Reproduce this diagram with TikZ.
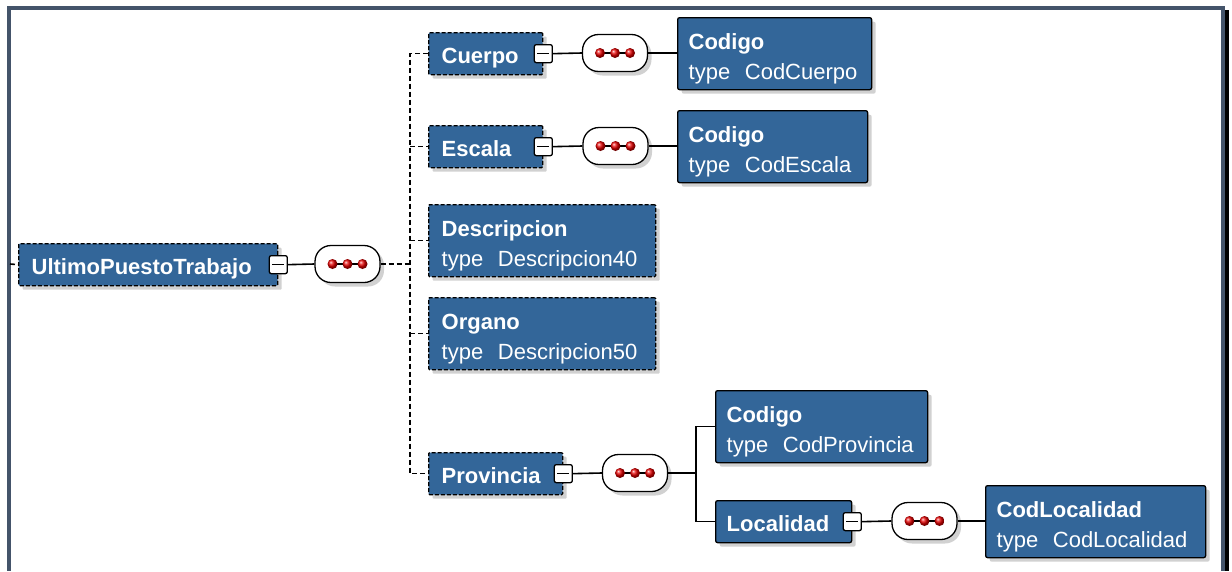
\documentclass[tikz,border=0pt]{standalone}
\usepackage{fontspec}
\setmainfont{Liberation Sans}
\usetikzlibrary{shadows}
\definecolor{boxblue}{RGB}{51,102,153}
\definecolor{framec}{RGB}{68,84,106}
\newcommand\onel[1]{\rule{0pt}{31pt}\textbf{#1}\rule[-11pt]{0pt}{11pt}}
\newcommand\twol[2]{\rule{0pt}{31.5pt}\textbf{#1}\\type~~#2\rule[-10.5pt]{0pt}{10.5pt}}
\tikzset{
  shad/.style={drop shadow={shadow xshift=4pt, shadow yshift=-4pt, fill=black, opacity=0.18}},
  base/.style={anchor=north west, fill=boxblue, draw=black, line width=1.3pt, text=white,
    font=\fontsize{22}{30}\selectfont, inner ysep=0pt, align=left, shad},
  optbox/.style={base, dash pattern=on 4pt off 2pt, inner xsep=13pt, rounded corners=1pt},
  reqbox/.style={base, inner xsep=11pt, rounded corners=2pt},
  minus/.style={draw=black, fill=white, line width=1.3pt, minimum size=18pt, inner sep=0pt,
    rounded corners=2pt,
    path picture={\draw[line width=1.5pt] ([xshift=3pt]path picture bounding box.west) -- ([xshift=-3pt]path picture bounding box.east);}},
  seq/.style={draw=black, fill=white, line width=1.3pt, minimum width=65pt, minimum height=37pt,
    inner sep=0pt, rounded corners=16pt, shad,
    path picture={
      \draw[line width=1.5pt] ([xshift=-15pt]path picture bounding box.center) -- ([xshift=15pt]path picture bounding box.center);
      \foreach \dx in {-15,0,15} {\shade[ball color=red!90!black] ([xshift=\dx pt]path picture bounding box.center) circle (5pt);}
    }},
  conn/.style={line width=1.6pt, draw=black},
  dconn/.style={conn, dash pattern=on 5pt off 3pt},
}
\begin{document}
\begin{tikzpicture}[x=1pt, y=-1pt]
\useasboundingbox (0,0) rectangle (1232,571);
% frame
\fill[framec] (7,6) rectangle (1225,10);
\fill[framec] (7,6) rectangle (11,571);
\fill[framec] (1221,6) rectangle (1225,571);
\fill[black] (1225,10) rectangle (1229,571);

% boxes
\node[optbox, text width=233pt] (upt) at (18,243) {\onel{UltimoPuestoTrabajo}};
\node[optbox, text width=88pt] (cuerpo) at (428,32) {\onel{Cuerpo}};
\node[reqbox, text width=172pt] (codcuerpo) at (677,17) {\twol{Codigo}{CodCuerpo}};
\node[optbox, text width=88pt] (escala) at (428,125) {\onel{Escala}};
\node[reqbox, text width=168pt] (codescala) at (677,110) {\twol{Codigo}{CodEscala}};
\node[optbox, text width=201pt] (descr) at (428,204) {\twol{Descripcion}{Descripcion40}};
\node[optbox, text width=201pt] (organo) at (428,297) {\twol{Organo}{Descripcion50}};
\node[optbox, text width=108pt] (prov) at (428,452) {\onel{Provincia}};
\node[reqbox, text width=190pt] (codprov) at (715,390) {\twol{Codigo}{CodProvincia}};
\node[reqbox, text width=114pt] (loc) at (715,500) {\onel{Localidad}};
\node[reqbox, text width=198pt] (codloc) at (985,485) {\twol{CodLocalidad}{CodLocalidad}};

% collapse markers
\node[minus] (uptm) at (upt.east) {};
\node[minus] (cuerpom) at (cuerpo.east) {};
\node[minus] (escalam) at (escala.east) {};
\node[minus] (provm) at (prov.east) {};
\node[minus] (locm) at (loc.east) {};

% sequence compositors
\node[seq] (uptseq) at (347.5,264) {};
\node[seq] (cuerposeq) at (615,53) {};
\node[seq] (escalaseq) at (615.5,146) {};
\node[seq] (provseq) at (635,473) {};
\node[seq] (locseq) at (924.5,521) {};

% junctions
\coordinate (lstub) at (10,264);
\coordinate (j1) at (410,264);
\coordinate (j2) at (696,473);

% connectors
\draw[dconn] (lstub) -- (upt.west);
\draw[conn] (uptm.east) -- (uptseq.west);
\draw[dconn] (uptseq.east) -- (j1);
\draw[dconn] (cuerpo.west) -- (cuerpo.west -| j1) -- (prov.west -| j1) -- (prov.west);
\draw[dconn] (escala.west -| j1) -- (escala.west);
\draw[dconn] (descr.west -| j1) -- (descr.west);
\draw[dconn] (organo.west -| j1) -- (organo.west);

\draw[conn] (cuerpom.east) -- (cuerposeq.west);
\draw[conn] (cuerposeq.east) -- (cuerposeq.east -| codcuerpo.west);
\draw[conn] (escalam.east) -- (escalaseq.west);
\draw[conn] (escalaseq.east) -- (escalaseq.east -| codescala.west);

\draw[conn] (provm.east) -- (provseq.west);
\draw[conn] (provseq.east) -- (j2);
\draw[conn] (codprov.west) -- (codprov.west -| j2) -- (loc.west -| j2) -- (loc.west);

\draw[conn] (locm.east) -- (locseq.west);
\draw[conn] (locseq.east) -- (locseq.east -| codloc.west);
\end{tikzpicture}
\end{document}
